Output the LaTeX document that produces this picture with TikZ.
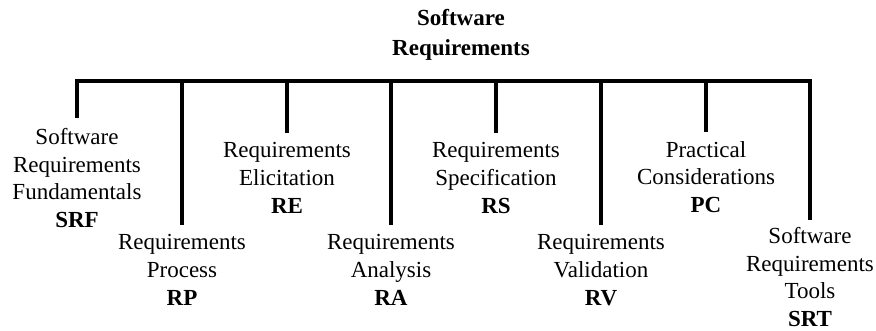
\documentclass[tikz,border=0pt]{standalone}
\usepackage{fontspec}
\setmainfont{Liberation Serif}
\begin{document}
\begin{tikzpicture}[x=1pt,y=-1pt,
  lbl/.style={anchor=north,inner sep=0pt,align=center,font=\fontsize{23}{27.8}\selectfont},
  ttl/.style={anchor=north,inner sep=0pt,align=center,font=\fontsize{23}{30}\selectfont\bfseries},
  busline/.style={line width=4pt,line join=miter},
  drop/.style={line width=4pt,shorten >=9pt}]
\useasboundingbox (0,0) rectangle (876,331);
\node[ttl] (root) at (461,9) {Software\\Requirements};
\coordinate (bus) at (461,81);
\node[lbl] (srf) at (77,128) {Software\\Requirements\\Fundamentals\\\textbf{SRF}};
\node[lbl] (rp)  at (182,234) {Requirements\\Process\\\textbf{RP}};
\node[lbl] (re)  at (287,142) {Requirements\\Elicitation\\\textbf{RE}};
\node[lbl] (ra)  at (391,234) {Requirements\\Analysis\\\textbf{RA}};
\node[lbl] (rs)  at (496,142) {Requirements\\Specification\\\textbf{RS}};
\node[lbl] (rv)  at (601,234) {Requirements\\Validation\\\textbf{RV}};
\node[lbl] (pc)  at (706,141) {Practical\\Considerations\\\textbf{PC}};
\node[lbl] (srt) at (810,227) {Software\\Requirements\\Tools\\\textbf{SRT}};
\draw[busline] ([yshift=10pt]srf.north) |- (bus) -| ([yshift=7pt]srt.north);
\foreach \n in {rp,re,ra,rs,rv,pc}
  \draw[drop] (\n.north |- bus) -- (\n.north);
\end{tikzpicture}
\end{document}
